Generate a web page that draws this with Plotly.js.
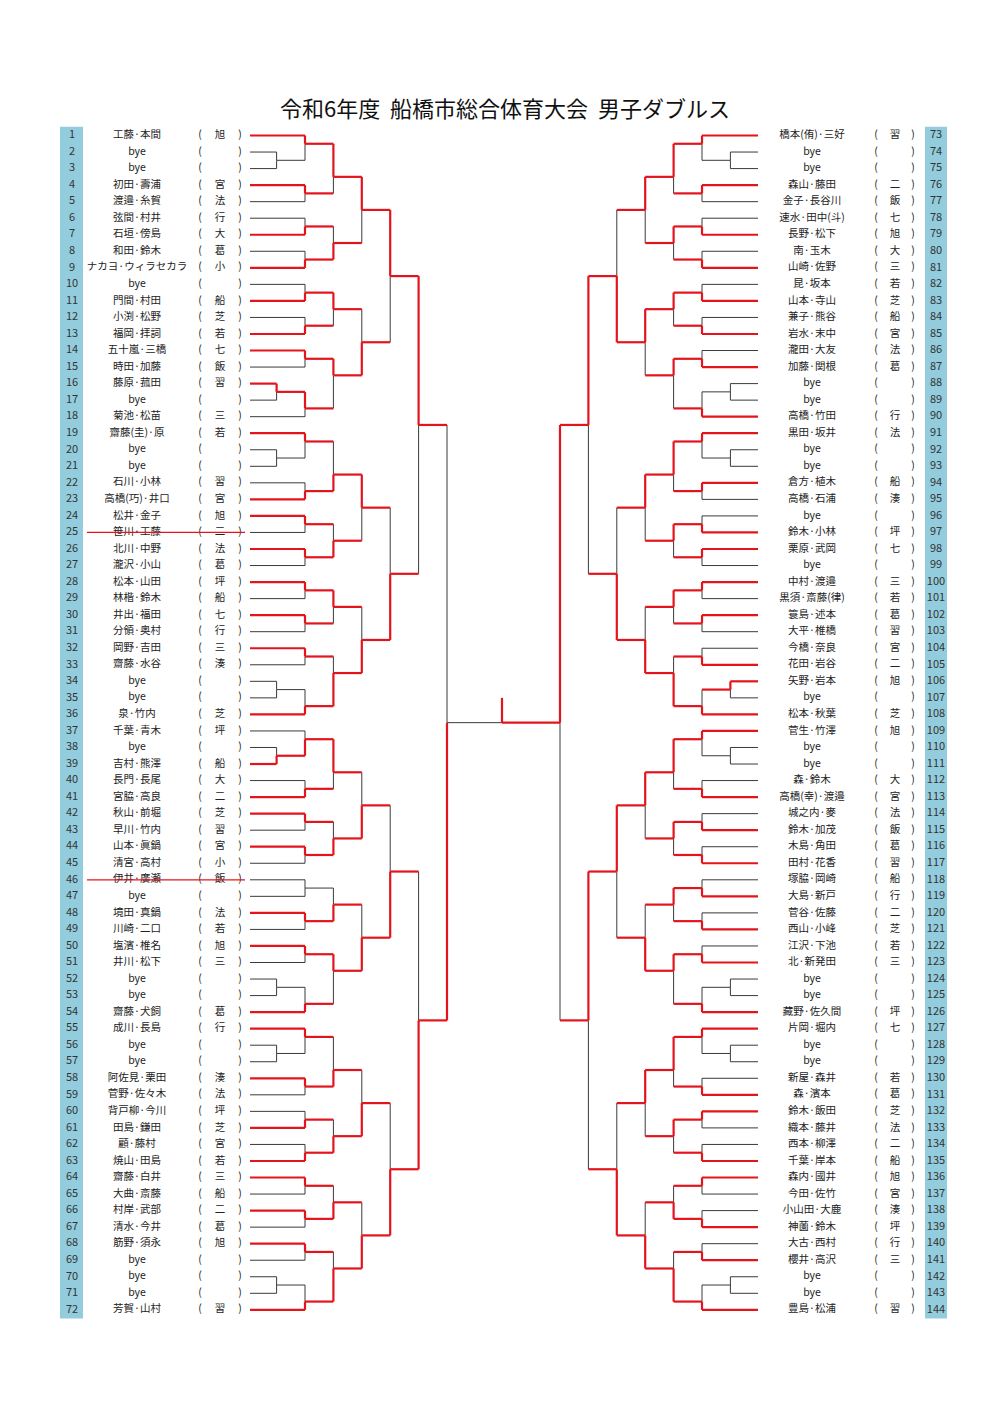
<!DOCTYPE html>
<html><head><meta charset="utf-8">
<script src="https://cdn.plot.ly/plotly-3.0.1.min.js"></script>
<style>body{margin:0;background:#fff}</style>
</head><body><div id="chart" style="width:1000px;height:1414px"></div>
<script>
// ---------------- data ----------------
const chartTitle = '令和6年度\u00a0\u00a0船橋市総合体育大会\u00a0\u00a0男子ダブルス';
const leftNumbers = [1,2,3,4,5,6,7,8,9,10,11,12,13,14,15,16,17,18,19,20,21,22,23,24,25,26,27,28,29,30,31,32,33,34,35,36,37,38,39,40,41,42,43,44,45,46,47,48,49,50,51,52,53,54,55,56,57,58,59,60,61,62,63,64,65,66,67,68,69,70,71,72];
const rightNumbers = [73,74,75,76,77,78,79,80,81,82,83,84,85,86,87,88,89,90,91,92,93,94,95,96,97,98,99,100,101,102,103,104,105,106,107,108,109,110,111,112,113,114,115,116,117,118,119,120,121,122,123,124,125,126,127,128,129,130,131,132,133,134,135,136,137,138,139,140,141,142,143,144];
const leftNames = ['工藤·本間','bye','bye','初田·壽浦','渡邉·糸賀','弦間·村井','石垣·傍島','和田·鈴木','ナカヨ·ウィラセカラ','bye','門間·村田','小渕·松野','福岡·拝詞','五十嵐·三橋','時田·加藤','藤原·菰田','bye','菊池·松苗',
 '齋藤(圭)·原','bye','bye','石川·小林','高橋(巧)·井口','松井·金子','笹川·工藤','北川·中野','瀧沢·小山','松本·山田','林楷·鈴木','井出·福田','分領·奥村','岡野·吉田','齋藤·水谷','bye','bye','泉·竹内',
 '千葉·青木','bye','吉村·熊澤','長門·長尾','宮脇·高良','秋山·前堀','早川·竹内','山本·眞鍋','清宮·高村','伊井·廣瀬','bye','境田·真鍋','川崎·二口','塩濱·椎名','井川·松下','bye','bye','齋藤·犬飼',
 '成川·長島','bye','bye','阿佐見·栗田','菅野·佐々木','背戸柳·今川','田島·鎌田','顧·藤村','焼山·田島','齋藤·白井','大曲·斎藤','村岸·武部','清水·今井','筋野·須永','bye','bye','bye','芳賀·山村'];
const leftSchools = ['旭','','','宮','法','行','大','葛','小','','船','芝','若','七','飯','習','','三',
 '若','','','習','宮','旭','二','法','葛','坪','船','七','行','三','湊','','','芝',
 '坪','','船','大','二','芝','習','宮','小','飯','','法','若','旭','三','','','葛',
 '行','','','湊','法','坪','芝','宮','若','三','船','二','葛','旭','','','','習'];
const rightNames = ['橋本(侑)·三好','bye','bye','森山·藤田','金子·長谷川','速水·田中(斗)','長野·松下','南·玉木','山崎·佐野','昆·坂本','山本·寺山','兼子·熊谷','岩水·末中','瀧田·大友','加藤·関根','bye','bye','高橋·竹田',
 '黒田·坂井','bye','bye','倉方·植木','高橋·石浦','bye','鈴木·小林','栗原·武岡','bye','中村·渡邉','黒須·斎藤(律)','簑島·述本','大平·椎橋','今橋·奈良','花田·岩谷','矢野·岩本','bye','松本·秋葉',
 '菅生·竹澤','bye','bye','森·鈴木','高橋(幸)·渡邉','城之内·麥','鈴木·加茂','木島·角田','田村·花香','塚脇·岡崎','大島·新戸','菅谷·佐藤','西山·小峰','江沢·下池','北·新発田','bye','bye','藏野·佐久間',
 '片岡·堀内','bye','bye','新屋·森井','森·濱本','鈴木·飯田','織本·藤井','西本·柳澤','千葉·岸本','森内·國井','今田·佐竹','小山田·大鹿','神薗·鈴木','大古·西村','櫻井·高沢','bye','bye','豊島·松浦'];
const rightSchools = ['習','','','二','飯','七','旭','大','三','若','芝','船','宮','法','葛','','','行',
 '法','','','船','湊','','坪','七','','三','若','葛','習','宮','二','旭','','芝',
 '旭','','','大','宮','法','飯','葛','習','船','行','二','芝','若','三','','','坪',
 '七','','','若','葛','芝','法','二','船','旭','宮','湊','坪','行','三','','','習'];
const struckEntries = [25, 46];
// bracket draw (entry numbers), left half and right half
const leftTree = [
 [[ [[[1,[2,3]],[4,5]],[[6,7],[8,9]]], [[[10,11],[12,13]],[[14,15],[[16,17],18]]] ],
  [ [[[19,[20,21]],[22,23]],[[24,25],[26,27]]], [[[28,29],[30,31]],[[32,33],[[34,35],36]]] ]],
 [[ [[[37,[38,39]],[40,41]],[[42,43],[44,45]]], [[[46,47],[48,49]],[[50,51],[[52,53],54]]] ],
  [ [[[55,[56,57]],[58,59]],[[60,61],[62,63]]], [[[64,65],[66,67]],[[68,69],[[70,71],72]]] ]]
];
const rightTree = [
 [[ [[[73,[74,75]],[76,77]],[[78,79],[80,81]]], [[[82,83],[84,85]],[[86,87],[[88,89],90]]] ],
  [ [[[91,[92,93]],[94,95]],[[96,97],[98,99]]], [[[100,101],[102,103]],[[104,105],[[106,107],108]]] ]],
 [[ [[[109,[110,111]],[112,113]],[[114,115],[116,117]]], [[[118,119],[120,121]],[[122,123],[[124,125],126]]] ],
  [ [[[127,[128,129]],[130,131]],[[132,133],[134,135]]], [[[136,137],[138,139]],[[140,141],[[142,143],144]]] ]]
];
// number of matches won by each entry (index = entry number)
const wins = [null,
 5,0,0,1,0,0,1,0,2,0,2,0,1,3,0,2,0,0,
 1,0,0,0,3,1,0,2,0,2,0,1,0,1,0,0,0,4,
 0,0,3,0,1,1,0,3,0,0,0,2,0,4,0,0,0,1,
 1,0,0,2,0,0,1,0,3,1,0,2,0,1,0,0,0,6,
 3,0,0,1,0,0,2,0,1,0,7,0,1,0,2,0,0,1,
 3,0,0,1,0,0,2,1,0,2,0,1,0,0,1,1,0,4,
 5,0,0,0,1,0,2,0,1,0,2,0,1,0,3,0,0,1,
 3,0,0,0,1,2,0,0,1,1,0,0,2,0,1,0,0,4];

// ---------------- layout helpers ----------------
const RED = '#e3141c', BLACK = '#3a3a3a';
const STEP = 28.4;
const sides = {
  L: {rootX: 447, dir: -1, entryX: 250},
  R: {rootX: 560, dir: 1, entryX: 758}
};
const centerX = 502;
const rowOf = e => (e <= 72 ? e : e - 72);
const seg = {red: {x: [], y: []}, black: {x: [], y: []}};
function line(x0, y0, x1, y1, red) {
  const s = red ? seg.red : seg.black;
  s.x.push(x0, x1, null); s.y.push(y0, y1, null);
}
function resolve(node, depth, side) {
  if (typeof node === 'number') return {y: rowOf(node), entry: node, steps: 0, leaf: true, n: 1};
  const a = resolve(node[0], depth + 1, side);
  const b = resolve(node[1], depth + 1, side);
  const x = side.rootX + side.dir * depth * STEP;
  const cx = c => c.leaf ? side.entryX : side.rootX + side.dir * (depth + 1) * STEP;
  const ok = c => c.entry != null && wins[c.entry] >= c.steps + 1;
  const w = ok(a) ? a : (ok(b) ? b : null);
  const mid = (a.y + b.y) / 2;
  const fr = mid - Math.floor(mid);
  let y;
  if (Math.abs(fr - 0.5) < 1e-9) y = mid;
  else if (fr < 1e-9) y = mid + (a.n < b.n ? -0.5 : 0.5);
  else y = Math.floor(mid) + 0.5;
  [a, b].forEach(c => {
    const red = c.leaf ? (w === c) : (c.entry != null);
    line(cx(c), c.y, x, c.y, red);
    line(x, c.y, x, y, w === c);
  });
  return {y, entry: w ? w.entry : null, steps: w ? w.steps + 1 : 0, leaf: false, n: a.n + b.n};
}
const Lr = resolve(leftTree, 0, sides.L);
const Rr = resolve(rightTree, 0, sides.R);
const okF = c => c.entry != null && wins[c.entry] >= c.steps + 1;
const champ = okF(Lr) ? 'L' : (okF(Rr) ? 'R' : null);
line(sides.L.rootX, Lr.y, centerX, Lr.y, champ === 'L');
line(sides.R.rootX, Rr.y, centerX, Rr.y, champ === 'R');
line(centerX, Lr.y, centerX, Lr.y - 1.5, champ != null);

// ---------------- traces ----------------
const lRows = leftNumbers.map(rowOf), rRows = rightNumbers.map(rowOf);
const FONT = 'Noto Sans CJK JP, Noto Sans, sans-serif';
const txt = (x, y, text, size, color) => ({type: 'scatter', mode: 'text', x, y, text,
  textposition: 'middle center', textfont: {family: FONT, size, color: color || '#222'}, hoverinfo: 'skip', showlegend: false});
const cst = (v, n) => Array(n).fill(v);
const traces = [
  {type: 'scatter', mode: 'lines', x: seg.black.x, y: seg.black.y, line: {color: BLACK, width: 1}, hoverinfo: 'skip', showlegend: false},
  {type: 'scatter', mode: 'lines', x: seg.red.x, y: seg.red.y, line: {color: RED, width: 2.2}, hoverinfo: 'skip', showlegend: false},
  txt(cst(72, 72), lRows, leftNumbers.map(String), 11, '#333'),
  txt(cst(137, 72), lRows, leftNames, 10.5, '#222'),
  txt(cst(200, 72), lRows, cst('(', 72), 10.5, '#222'),
  txt(cst(220, 72), lRows, leftSchools, 10.5, '#222'),
  txt(cst(240, 72), lRows, cst(')', 72), 10.5, '#222'),
  txt(cst(812, 72), rRows, rightNames, 10.5, '#222'),
  txt(cst(876, 72), rRows, cst('(', 72), 10.5, '#222'),
  txt(cst(895, 72), rRows, rightSchools, 10.5, '#222'),
  txt(cst(913, 72), rRows, cst(')', 72), 10.5, '#222'),
  txt(cst(936, 72), rRows, rightNumbers.map(String), 11, '#333')
];
// strike-through for withdrawn entries
const sx = [], sy = [];
struckEntries.forEach(e => { sx.push(87, 245, null); sy.push(rowOf(e), rowOf(e), null); });
traces.push({type: 'scatter', mode: 'lines', x: sx, y: sy, line: {color: RED, width: 1.3}, hoverinfo: 'skip', showlegend: false});

const yTop = 1 - 135.5 / 16.54, yBot = 1 + (1414 - 135.5) / 16.54;
const layout = {
  width: 1000, height: 1414, margin: {l: 0, r: 0, t: 0, b: 0},
  paper_bgcolor: '#fff', plot_bgcolor: '#fff',
  xaxis: {range: [0, 1000], visible: false, fixedrange: true},
  yaxis: {range: [yBot, yTop], visible: false, fixedrange: true},
  shapes: [
    {type: 'rect', layer: 'below', x0: 60, x1: 83, y0: 0.47, y1: 72.53, fillcolor: '#93cddd', line: {width: 0}},
    {type: 'rect', layer: 'below', x0: 925, x1: 947, y0: 0.47, y1: 72.53, fillcolor: '#93cddd', line: {width: 0}}
  ],
  annotations: [{x: 505, y: 1 + (107 - 135.5) / 16.54, xref: 'x', yref: 'y', text: chartTitle, showarrow: false,
    font: {family: FONT, size: 22, color: '#111'}}]
};
Plotly.newPlot('chart', traces, layout, {staticPlot: true});
</script>
</body></html>
